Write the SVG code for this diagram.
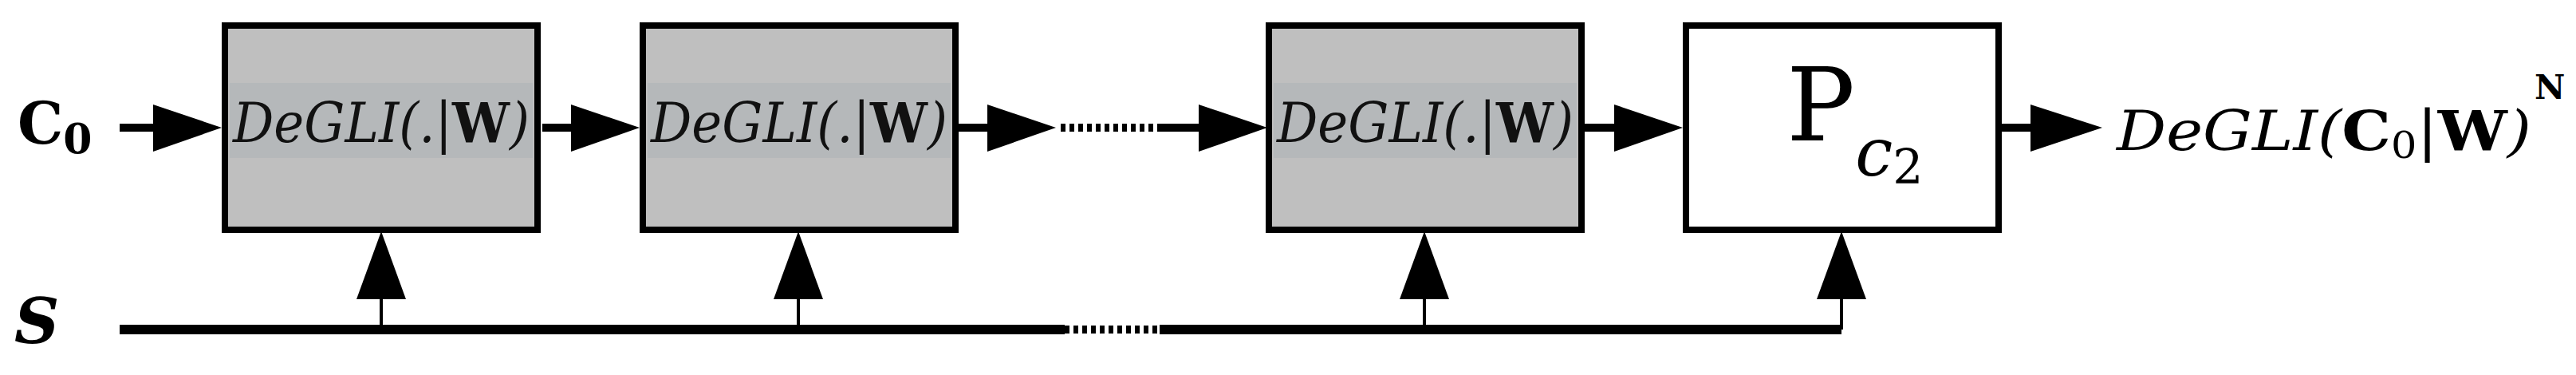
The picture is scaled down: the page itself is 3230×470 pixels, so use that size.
<svg xmlns="http://www.w3.org/2000/svg" width="3230" height="470" viewBox="0 0 3230 470">
<style>
.box{fill:#bfbfbf;stroke:#000;stroke-width:8}
.band{fill:#b5b8ba}
.lbl{font-family:"DejaVu Serif","Liberation Serif",serif;font-style:italic;font-size:70px;fill:#111}
.bw{font-style:normal;font-weight:bold}
.sh{stroke:#000;stroke-width:10;fill:none}
.dot{stroke:#000;stroke-width:10;stroke-dasharray:6 5;fill:none}
.stem{stroke:#000;stroke-width:4;fill:none}
</style>
<g id="connectors">
<path class="sh" d="M150 160H200M680 160H725M1195 160H1250M1454 160H1510M1980 160H2030M2506 160H2560"/>
<path class="dot" d="M1330 160H1454"/>
<polygon points="192,131 278,160 192,190"/>
<polygon points="716,131 802,160 716,190"/>
<polygon points="1238,131 1324,160 1238,190"/>
<polygon points="1503,131 1589,160 1503,190"/>
<polygon points="2024,131 2110,160 2024,190"/>
<polygon points="2546,131 2636,160 2546,190"/>
<path d="M150 413H1335M1454 413H2309" stroke="#000" stroke-width="12" fill="none"/>
<path class="dot" d="M1335 413H1454" stroke-width="12"/>
<path class="stem" d="M478 413V370M1001 413V370M1786 413V370M2309 413V370"/>
<polygon points="447,375 478,290 509,375"/>
<polygon points="970,375 1001,290 1032,375"/>
<polygon points="1755,375 1786,290 1817,375"/>
<polygon points="2278,375 2309,290 2340,375"/>
</g>
<g id="c0"><text x="22" y="180" font-family="DejaVu Serif,serif" font-weight="bold" font-size="72">C<tspan font-size="52" dy="12">0</tspan></text></g>
<g id="s"><text x="18" y="430" font-family="DejaVu Serif,serif" font-weight="bold" font-style="italic" font-size="78">S</text></g>
<g id="n1"><rect class="box" x="282" y="32" width="392" height="256"/><rect class="band" x="288" y="104" width="380" height="94"/><text class="lbl" x="292" y="178" textLength="372" lengthAdjust="spacingAndGlyphs">DeGLI(.|<tspan class="bw">W</tspan>)</text></g>
<g id="n2"><rect class="box" x="806" y="32" width="392" height="256"/><rect class="band" x="812" y="104" width="380" height="94"/><text class="lbl" x="816" y="178" textLength="372" lengthAdjust="spacingAndGlyphs">DeGLI(.|<tspan class="bw">W</tspan>)</text></g>
<g id="n3"><rect class="box" x="1591" y="32" width="392" height="256"/><rect class="band" x="1597" y="104" width="380" height="94"/><text class="lbl" x="1601" y="178" textLength="372" lengthAdjust="spacingAndGlyphs">DeGLI(.|<tspan class="bw">W</tspan>)</text></g>
<g id="p"><rect x="2114" y="32" width="392" height="256" fill="#fff" stroke="#000" stroke-width="8"/><text x="2240" y="176" font-family="DejaVu Serif,serif" font-size="128">P<tspan font-style="italic" font-size="84" dy="44">c</tspan><tspan font-size="60" dy="10">2</tspan></text></g>
<g id="out"><text x="2654" y="188" font-family="DejaVu Serif,serif" font-style="italic" font-size="70" textLength="520" lengthAdjust="spacingAndGlyphs">DeGLI(<tspan class="bw">C</tspan><tspan font-style="normal" font-size="46" dy="10">0</tspan><tspan dy="-10">|</tspan><tspan class="bw">W</tspan>)</text><text x="3178" y="124" font-family="DejaVu Serif,serif" font-weight="bold" font-size="42">N</text></g>
</svg>
